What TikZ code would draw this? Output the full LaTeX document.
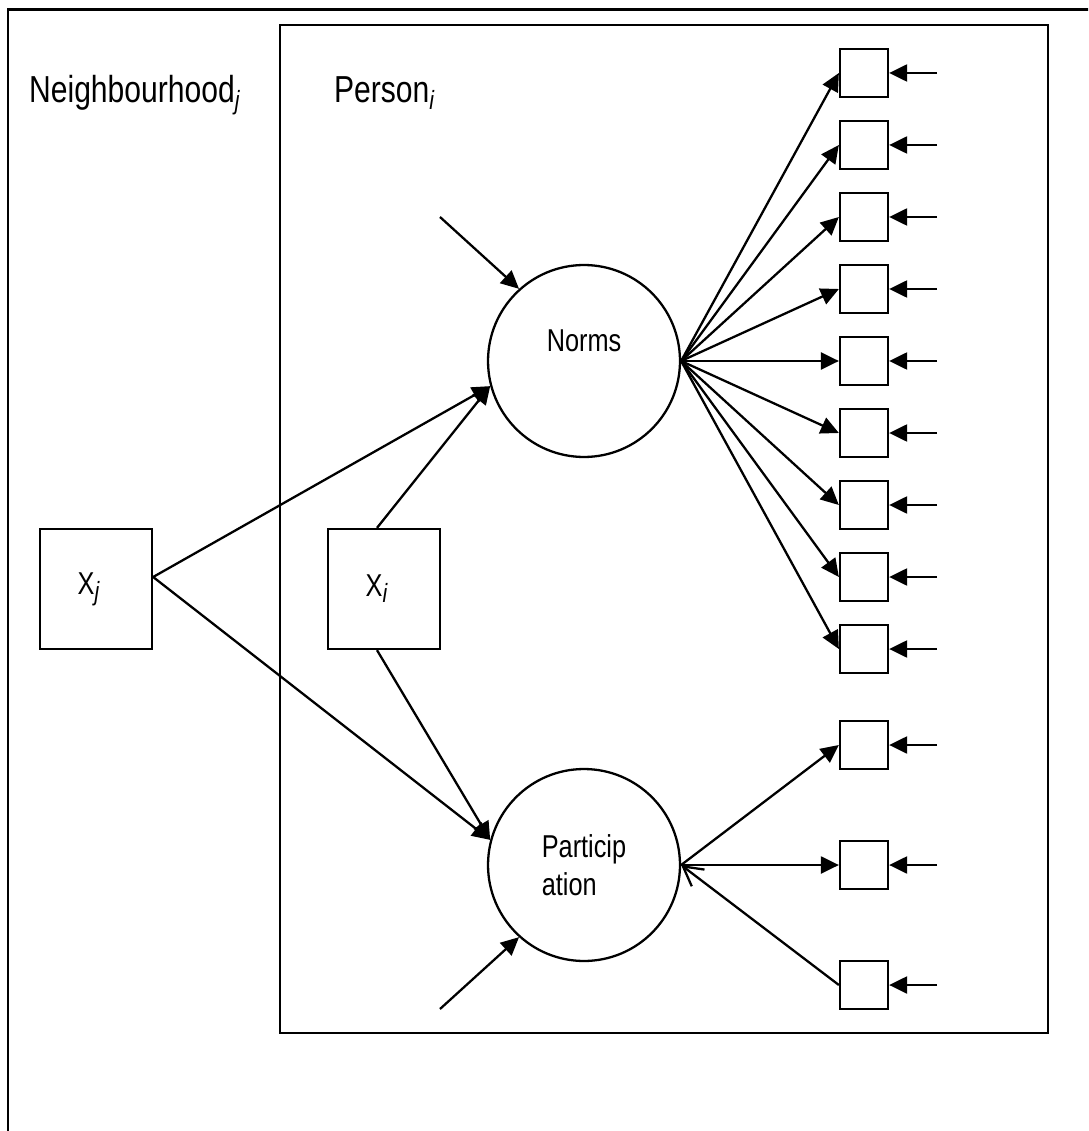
\documentclass[tikz,border=0pt]{standalone}
\usepackage{fontspec}
\setmainfont[FakeStretch=0.8]{Liberation Sans}
\usetikzlibrary{arrows.meta}
\newcommand{\subidx}[1]{\raisebox{-0.35ex}{\fontsize{15}{15}\selectfont\itshape #1}}

\begin{document}
\begin{tikzpicture}[x=0.02cm, y=-0.02cm, line width=1.3pt,
  >={Triangle[length=0.36cm,width=0.34cm]},
  obs/.style={draw, rectangle, inner sep=0pt, minimum size=0.96cm},
  bigobs/.style={draw, rectangle, inner sep=0pt, minimum width=2.24cm, minimum height=2.4cm, font=\fontsize{18}{21.6}\selectfont},
  latent/.style={draw, circle, inner sep=0pt, minimum size=3.84cm, align=left, font=\fontsize{18}{21.6}\selectfont},
  title/.style={anchor=base west, inner sep=0pt, font=\fontsize{21.4}{25}\selectfont}]
\useasboundingbox (0,0) rectangle (1088,1131);
\clip (0,0) rectangle (1088,1131);
% levels
\draw[line width=1.7pt] (8,10) rectangle (1120,1170);
\draw (280,25) rectangle (1048,1033);
\node[title] (nbh) at (28,103) {Neighbourhood\subidx{j}};
\node[title] (per) at (333,103) {Person\subidx{i}};
% covariates and latent variables
\node[bigobs] (xj) at (96,589) {\hspace*{-0.3cm}X\subidx{j}};
\node[bigobs] (xi) at (384,589) {\hspace*{-0.3cm}X\subidx{i}};
\node[latent, label={[font=\fontsize{18}{21.6}\selectfont, yshift=0.4cm]center:Norms}] (norms) at (584,361) {};
\node[latent] (par) at (584,865) {Particip\\ation};
\draw[->] ([yshift=0.24cm]xj.east) -- (norms.195);
\draw[->] ([yshift=0.24cm]xj.east) -- (par.165);
\draw[->] ([xshift=-0.14cm]xi.north) -- (norms.195);
\draw[->] ([xshift=-0.14cm]xi.south) -- (par.165);
\coordinate (enorms) at (440,217);
\coordinate (epar) at (440,1009);
\draw[->] (enorms) -- (norms.132);
\draw[->] (epar) -- (par.228);
% indicators
\foreach \k [evaluate=\k as \yy using 1+72*\k] in {1,...,9}{
  \node[obs] (n\k) at (864,\yy) {};
  \coordinate (en\k) at (937,\yy);
  \draw[->] (norms.east) -- (n\k.west);
  \draw[->] (en\k) -- (n\k.east);
}
\foreach \k [evaluate=\k as \yy using 625+120*\k] in {1,2,3}{
  \node[obs] (p\k) at (864,\yy) {};
  \coordinate (ep\k) at (937,\yy);
  \draw[->] (ep\k) -- (p\k.east);
}
\draw[->] (par.east) -- (p1.west);
\draw[->] (par.east) -- (p2.west);
\draw[-{Straight Barb[length=0.38cm,width=0.42cm]}] (p3.west) -- (par.east);
\end{tikzpicture}
\end{document}
